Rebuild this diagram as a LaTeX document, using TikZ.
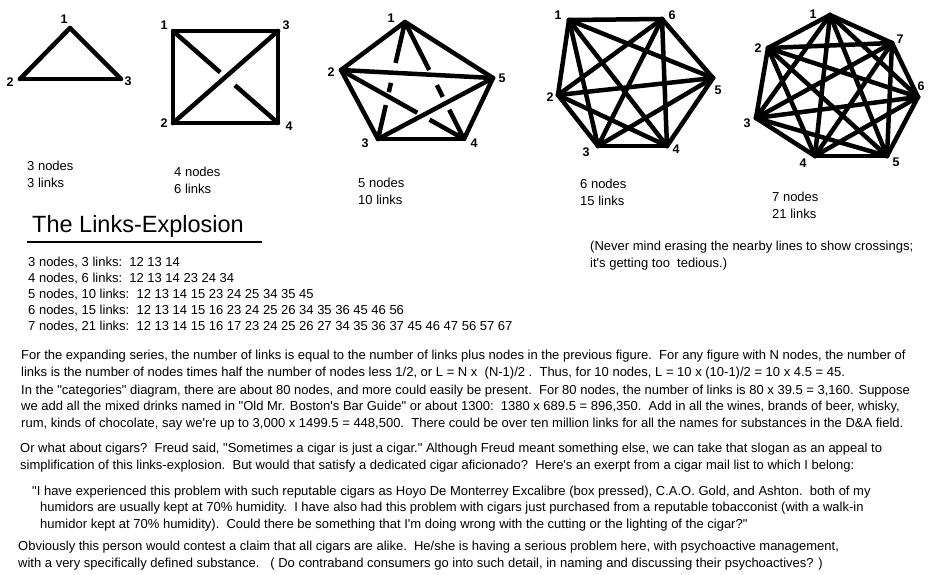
\documentclass[tikz,border=0pt]{standalone}
\usepackage{fontspec}
\setmainfont{Liberation Sans}
\newfontfamily\plainsans{Liberation Sans}
\usetikzlibrary{calc}
\tikzset{edge/.style={line width=4.5pt,line cap=round},
  cut/.style={line width=4.5pt,line cap=butt},
  num/.style={font=\plainsans\bfseries\fontsize{12.5}{13}\selectfont,inner sep=0pt},
  txt/.style={font=\plainsans\fontsize{13}{16.3}\selectfont,align=left,inner sep=0pt,anchor=base west}}

\begin{document}
\begin{tikzpicture}[x=1pt,y=-1pt]
    \useasboundingbox (0,0) rectangle (929,574);

    % 3 nodes
    \coordinate (t1) at (70,28);
    \coordinate (t2) at (20,79);
    \coordinate (t3) at (121,79);
    \draw [edge] (t1) -- (t2);
    \draw [edge] (t1) -- (t3);
    \draw [edge] (t2) -- (t3);
    \node[num] (t1n) at (64,19) {1};
    \node[num] (t2n) at (10,82) {2};
    \node[num] (t3n) at (128,81) {3};
    \node[txt] (tcap) at (27,187) {3 nodes\\3 links};

    % 4 nodes
    \coordinate (s1) at (173,31);
    \coordinate (s2) at (173,123);
    \coordinate (s3) at (278,31);
    \coordinate (s4) at (278,123);
    \draw [edge] (s1) -- (s2);
    \draw [edge] (s1) -- (s3);
    \draw [edge] (s2) -- (s4);
    \draw [edge] (s3) -- (s4);
    \draw [edge] (s2) -- (s3);
    \draw [cut] (s1) -- ($(s1)!0.45!(s4)$);
    \draw [cut] ($(s1)!0.59!(s4)$) -- (s4);
    \node[num] (s1n) at (164,25) {1};
    \node[num] (s2n) at (164,123) {2};
    \node[num] (s3n) at (286,25) {3};
    \node[num] (s4n) at (289,126) {4};
    \node[txt] (scap) at (174,193) {4 nodes\\6 links};

    % 5 nodes
    \coordinate (p1) at (405,22);
    \coordinate (p2) at (341,70);
    \coordinate (p3) at (378,139);
    \coordinate (p4) at (464,139);
    \coordinate (p5) at (493,78);
    \draw [edge] (p1) -- (p2);
    \draw [edge] (p1) -- (p5);
    \draw [edge] (p2) -- (p3);
    \draw [edge] (p3) -- (p4);
    \draw [edge] (p4) -- (p5);
    \draw [edge] (p2) -- (p5);
    \draw [edge] (p3) -- (p5);
    \draw [cut] (p1) -- ($(p1)!0.35!(p3)$);
    \draw [cut] ($(p1)!0.52!(p3)$) -- ($(p1)!0.60!(p3)$);
    \draw [cut] ($(p1)!0.71!(p3)$) -- (p3);
    \draw [cut] (p1) -- ($(p1)!0.41!(p4)$);
    \draw [cut] ($(p1)!0.54!(p4)$) -- ($(p1)!0.64!(p4)$);
    \draw [cut] ($(p1)!0.75!(p4)$) -- (p4);
    \draw [cut] (p2) -- ($(p2)!0.62!(p4)$);
    \draw [cut] ($(p2)!0.72!(p4)$) -- (p4);
    \node[num] (p1n) at (391,18) {1};
    \node[num] (p2n) at (331,72) {2};
    \node[num] (p3n) at (365,143) {3};
    \node[num] (p4n) at (474,143) {4};
    \node[num] (p5n) at (502,78) {5};
    \node[txt] (pcap) at (358,204) {5 nodes\\10 links};

    % 6 nodes
    \coordinate (h1) at (569,20);
    \coordinate (h2) at (558,95);
    \coordinate (h3) at (598,146);
    \coordinate (h4) at (667,146);
    \coordinate (h5) at (713,78);
    \coordinate (h6) at (662,19);
    \draw [edge] (h1) -- (h2);
    \draw [edge] (h1) -- (h3);
    \draw [edge] (h1) -- (h4);
    \draw [edge] (h1) -- (h5);
    \draw [edge] (h1) -- (h6);
    \draw [edge] (h2) -- (h3);
    \draw [edge] (h2) -- (h4);
    \draw [edge] (h2) -- (h5);
    \draw [edge] (h2) -- (h6);
    \draw [edge] (h3) -- (h4);
    \draw [edge] (h3) -- (h5);
    \draw [edge] (h3) -- (h6);
    \draw [edge] (h4) -- (h5);
    \draw [edge] (h4) -- (h6);
    \draw [edge] (h5) -- (h6);
    \node[num] (h1n) at (558,15) {1};
    \node[num] (h2n) at (550,97) {2};
    \node[num] (h3n) at (586,152) {3};
    \node[num] (h4n) at (676,149) {4};
    \node[num] (h5n) at (718,90) {5};
    \node[num] (h6n) at (672,15) {6};
    \node[txt] (hcap) at (580,205) {6 nodes\\15 links};

    % 7 nodes
    \coordinate (g1) at (830,15);
    \coordinate (g2) at (768,48);
    \coordinate (g3) at (756,118);
    \coordinate (g4) at (815,156);
    \coordinate (g5) at (887,156);
    \coordinate (g6) at (918,97);
    \coordinate (g7) at (892,43);
    \draw [edge] (g1) -- (g2);
    \draw [edge] (g1) -- (g3);
    \draw [edge] (g1) -- (g4);
    \draw [edge] (g1) -- (g5);
    \draw [edge] (g1) -- (g6);
    \draw [edge] (g1) -- (g7);
    \draw [edge] (g2) -- (g3);
    \draw [edge] (g2) -- (g4);
    \draw [edge] (g2) -- (g5);
    \draw [edge] (g2) -- (g6);
    \draw [edge] (g2) -- (g7);
    \draw [edge] (g3) -- (g4);
    \draw [edge] (g3) -- (g5);
    \draw [edge] (g3) -- (g6);
    \draw [edge] (g3) -- (g7);
    \draw [edge] (g4) -- (g5);
    \draw [edge] (g4) -- (g6);
    \draw [edge] (g4) -- (g7);
    \draw [edge] (g5) -- (g6);
    \draw [edge] (g5) -- (g7);
    \draw [edge] (g6) -- (g7);
    \node[num] (g1n) at (813,14) {1};
    \node[num] (g2n) at (758,48) {2};
    \node[num] (g3n) at (747,123) {3};
    \node[num] (g4n) at (803,163) {4};
    \node[num] (g5n) at (896,162) {5};
    \node[num] (g6n) at (921,86) {6};
    \node[num] (g7n) at (900,39) {7};
    \node[txt] (gcap) at (772,218) {7 nodes\\21 links};

    % title and lists
    \node[txt,font=\plainsans\fontsize{23.5}{26}\selectfont] (title) at (32,232) {The Links-Explosion};
    \draw [line width=2pt] (27,242) -- (262,242);
    \node[txt] (note) at (590,267) {(Never mind erasing the nearby lines to show crossings;\\
        it's getting too\ \ tedious.)};
    \node[txt,font=\plainsans\fontsize{13}{16}\selectfont] (list) at (28,330) {3 nodes, 3 links:\ \ 12 13 14\\
        4 nodes, 6 links:\ \ 12 13 14 23 24 34\\
        5 nodes, 10 links:\ \ 12 13 14 15 23 24 25 34 35 45\\
        6 nodes, 15 links:\ \ 12 13 14 15 16 23 24 25 26 34 35 36 45 46 56\\
        7 nodes, 21 links:\ \ 12 13 14 15 16 17 23 24 25 26 27 34 35 36 37 45 46 47 56 57 67};

    % paragraphs
    \node[txt] (para1) at (21,376) {For the expanding series, the number of links is equal to the number of links plus nodes in the previous figure.\ \ For any figure with N nodes, the number of\\
        links is the number of nodes times half the number of nodes less 1/2, or L = N x\ \ (N-1)/2 .\ \ Thus, for 10 nodes, L = 10 x (10-1)/2 = 10 x 4.5 = 45.};
    \node[txt] (para2) at (21,427) {In the "categories" diagram, there are about 80 nodes, and more could easily be present.\ \ For 80 nodes, the number of links is 80 x 39.5 = 3,160. Suppose\\
        we add all the mixed drinks named in "Old Mr. Boston's Bar Guide" or about 1300:\ \ 1380 x 689.5 = 896,350.\ \ Add in all the wines, brands of beer, whisky,\\
        rum, kinds of chocolate, say we're up to 3,000 x 1499.5 = 448,500.\ \ There could be over ten million links for all the names for substances in the D\&A field.};
    \node[txt] (para3) at (20,469) {Or what about cigars?\ \ Freud said, "Sometimes a cigar is just a cigar." Although Freud meant something else, we can take that slogan as an appeal to\\
        simplification of this links-explosion.\ \ But would that satisfy a dedicated cigar aficionado?\ \ Here's an exerpt from a cigar mail list to which I belong:};
    \node[txt] (quote) at (32,528) {"I have experienced this problem with such reputable cigars as Hoyo De Monterrey Excalibre (box pressed), C.A.O. Gold, and Ashton.\ \ both of my\\
        \hspace*{8pt}humidors are usually kept at 70\% humidity.\ \ I have also had this problem with cigars just purchased from a reputable tobacconist (with a walk-in\\
        \hspace*{8pt}humidor kept at 70\% humidity).\ \ Could there be something that I'm doing wrong with the cutting or the lighting of the cigar?"};
    \node[txt] (para4) at (18,567) {Obviously this person would contest a claim that all cigars are alike.\ \ He/she is having a serious problem here, with psychoactive management,\\
        with a very specifically defined substance.\ \ \ ( Do contraband consumers go into such detail, in naming and discussing their psychoactives? )};
\end{tikzpicture}
\end{document}
